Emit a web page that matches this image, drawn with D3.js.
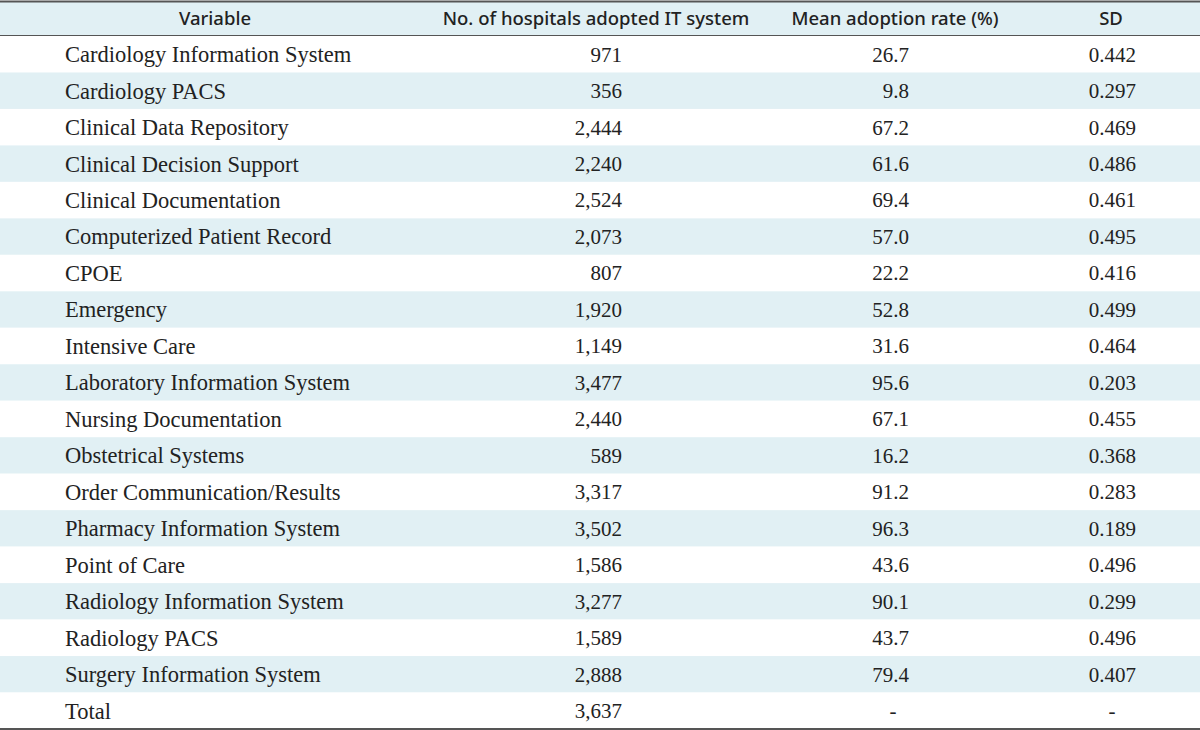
<!DOCTYPE html>
<html><head><meta charset="utf-8">
<script src="https://cdn.jsdelivr.net/npm/d3@7"></script>
<style>html,body{margin:0;padding:0;background:#fff;}</style>
</head><body>
<svg id="c" width="1200" height="730"></svg>
<script>
const headers = ["Variable","No. of hospitals adopted IT system","Mean adoption rate (%)","SD"];
const variables = ["Cardiology Information System","Cardiology PACS","Clinical Data Repository","Clinical Decision Support","Clinical Documentation","Computerized Patient Record","CPOE","Emergency","Intensive Care","Laboratory Information System","Nursing Documentation","Obstetrical Systems","Order Communication/Results","Pharmacy Information System","Point of Care","Radiology Information System","Radiology PACS","Surgery Information System","Total"];
const hospitals = ["971","356","2,444","2,240","2,524","2,073","807","1,920","1,149","3,477","2,440","589","3,317","3,502","1,586","3,277","1,589","2,888","3,637"];
const rates = ["26.7","9.8","67.2","61.6","69.4","57.0","22.2","52.8","31.6","95.6","67.1","16.2","91.2","96.3","43.6","90.1","43.7","79.4","-"];
const sds = ["0.442","0.297","0.469","0.486","0.461","0.495","0.416","0.499","0.464","0.203","0.455","0.368","0.283","0.189","0.496","0.299","0.496","0.407","-"];

const svg = d3.select("#c");
const W = 1200;
const headTop = 2, headBot = 36, bodyBot = 729;
const y = d3.scaleBand().domain(d3.range(variables.length)).range([headBot, bodyBot]).padding(0);
const stripe = "#e1f0f4";
const lineCol = "#555";

svg.append("rect").attr("x",0).attr("y",headTop).attr("width",W).attr("height",headBot-headTop).attr("fill",stripe);
svg.selectAll("rect.row").data(variables).join("rect").attr("class","row")
  .attr("x",0).attr("y",(d,i)=>y(i)).attr("width",W).attr("height",y.bandwidth())
  .attr("fill",(d,i)=> i%2===1 ? stripe : "#fff");

const headX = [215, 596, 895, 1111];
svg.selectAll("text.h").data(headers).join("text").attr("class","h")
  .attr("x",(d,i)=>headX[i]).attr("y",(headTop+headBot)/2).attr("dy","0.35em")
  .attr("text-anchor","middle").attr("font-family","'Noto Sans', sans-serif").attr("font-weight",500)
  .attr("font-size",18.5).attr("fill","#222").text(d=>d);

const bodyFont = "'Liberation Serif', serif";
const fs = 22.5;
const g = svg.append("g").attr("font-family",bodyFont).attr("font-size",fs).attr("fill","#222");
const cy = i => y(i)+y.bandwidth()/2;
g.selectAll("text.v").data(variables).join("text").attr("class","v")
  .attr("x",65).attr("y",(d,i)=>cy(i)).attr("dy","0.35em").text(d=>d);
const ng = g.append("g").attr("font-size",21);
ng.selectAll("text.n").data(hospitals).join("text").attr("class","n")
  .attr("x",622).attr("y",(d,i)=>cy(i)).attr("dy","0.35em").attr("text-anchor","end").text(d=>d);
ng.selectAll("text.r").data(rates).join("text").attr("class","r")
  .attr("x",d=>d==="-"?893:909).attr("y",(d,i)=>cy(i)).attr("dy","0.35em").attr("text-anchor",d=>d==="-"?"middle":"end").text(d=>d);
ng.selectAll("text.s").data(sds).join("text").attr("class","s")
  .attr("x",d=>d==="-"?1112:1136).attr("y",(d,i)=>cy(i)).attr("dy","0.35em").attr("text-anchor",d=>d==="-"?"middle":"end").text(d=>d);

svg.append("line").attr("x1",0).attr("x2",W).attr("y1",1.5).attr("y2",1.5).attr("stroke",lineCol).attr("stroke-width",2);
svg.append("line").attr("x1",0).attr("x2",W).attr("y1",headBot-0.5).attr("y2",headBot-0.5).attr("stroke",lineCol).attr("stroke-width",1);
svg.append("line").attr("x1",0).attr("x2",W).attr("y1",bodyBot).attr("y2",bodyBot).attr("stroke",lineCol).attr("stroke-width",2);
</script>
</body></html>
